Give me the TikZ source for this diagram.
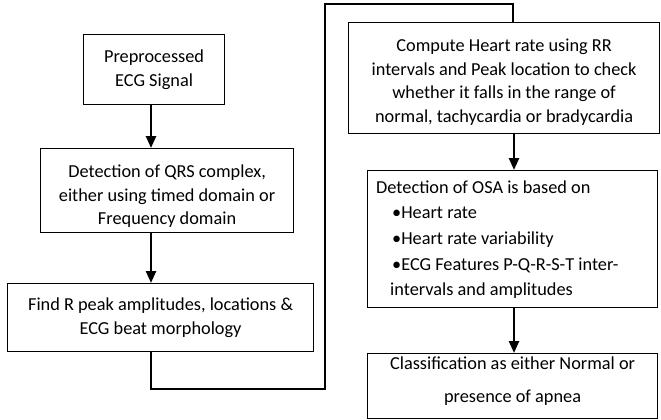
\documentclass[tikz,border=0pt]{standalone}
\usepackage{fontspec}
\setmainfont{Carlito}
\usetikzlibrary{arrows.meta,calc}
\begin{document}
\begin{tikzpicture}[x=1pt,y=-1pt,
  box/.style={draw=black,line width=1.2pt,anchor=north west,inner sep=0pt},
  txt/.style={inner sep=0pt,align=center,font=\fontsize{18.3}{23.5}\selectfont},
  line/.style={anchor=base west,inner sep=0pt,font=\fontsize{18.3}{22}\selectfont},
  flow/.style={line width=2.4pt,-{Triangle[width=10pt,length=12pt]}},
  link/.style={line width=2pt}]
\useasboundingbox (0,0) rectangle (661,420);
% left column
\node[box,minimum width=141pt,minimum height=70pt] (pre) at (83,34) {};
\node[txt] (pretxt) at ($(pre.center)+(0,0)$) {Preprocessed\\ECG Signal};
\node[box,minimum width=253pt,minimum height=84pt] (qrs) at (40,148) {};
\node[txt] (qrstxt) at ($(qrs.center)+(0,6)$)
  {Detection of QRS complex,\\either using timed domain or\\Frequency domain};
\node[box,minimum width=306pt,minimum height=68pt] (rpk) at (7,283) {};
\node[txt] (rpktxt) at ($(rpk.center)+(0,0)$)
  {Find R peak amplitudes, locations \&\\ECG beat morphology};
% right column
\node[box,minimum width=311pt,minimum height=111pt] (hr) at (348,22) {};
\node[txt] (hrtxt) at ($(hr.center)+(0,4)$)
  {Compute Heart rate using RR\\intervals and Peak location to check\\whether it falls in the range of\\normal, tachycardia or bradycardia};
\node[box,minimum width=290pt,minimum height=137pt] (osa) at (367,170) {};
\node[line] (osa1) at (376,193) {Detection of OSA is based on};
\node[line] (osa2) at (392,218) {\textbullet Heart rate};
\node[line] (osa3) at (392,244) {\textbullet Heart rate variability};
\node[line] (osa4) at (392,270) {\textbullet ECG Features P-Q-R-S-T inter-};
\node[line] (osa5) at (390,295) {intervals and amplitudes};
\node[box,minimum width=290pt,minimum height=65pt] (cls) at (367,353) {};
\node[txt,font=\fontsize{18.3}{33}\selectfont] (clstxt) at ($(cls.center)+(0,-5)$)
  {Classification as either Normal or\\presence of apnea};
% arrows
\draw[flow] (151,0 |- pre.south) -- (151,0 |- qrs.north);
\draw[flow] (151,0 |- qrs.south) -- (151,0 |- rpk.north);
\coordinate (c0) at (151,0 |- rpk.south);
\coordinate (c1) at (151,389);
\coordinate (c2) at (325,389);
\coordinate (c3) at (325,4);
\coordinate (c4) at (513,4);
\draw[link] (c0) -- (c1) -- (c2) -- (c3) -- (c4) -- (c4 |- hr.north);
\draw[flow] (514,0 |- hr.south) -- (514,0 |- osa.north);
\draw[flow] (514,0 |- osa.south) -- (514,0 |- cls.north);
\end{tikzpicture}
\end{document}
